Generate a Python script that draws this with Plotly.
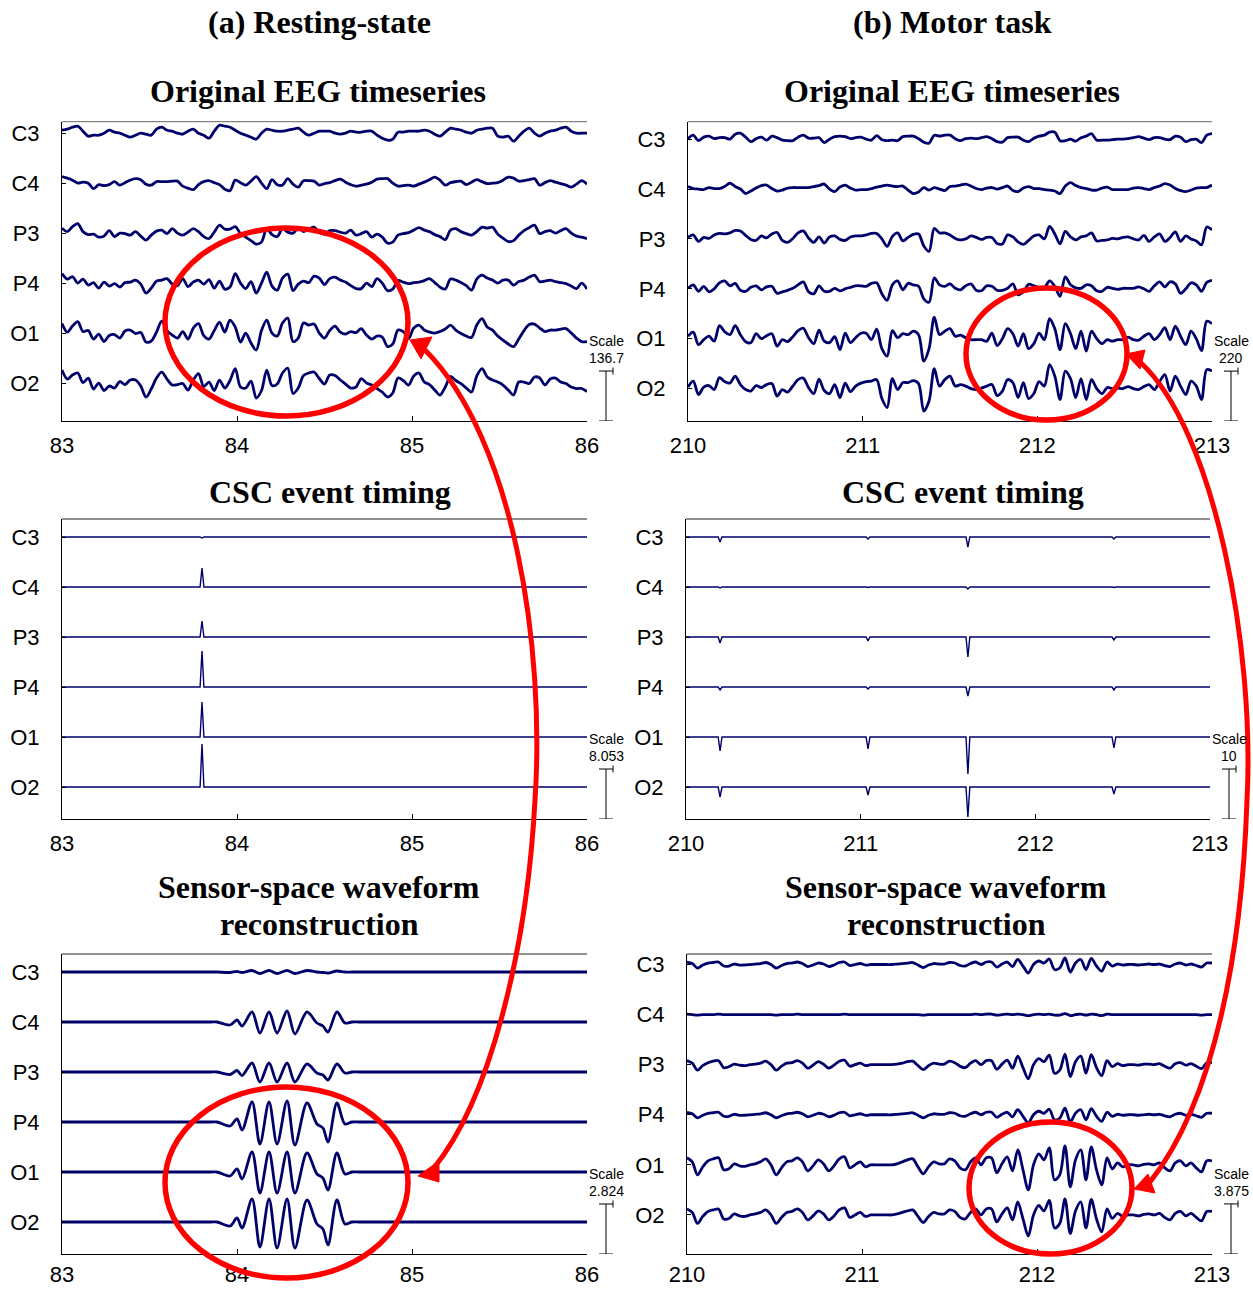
import plotly.graph_objects as go

W, H = 1253, 1289
CHANNELS = ["C3", "C4", "P3", "P4", "O1", "O2"]
TRACE = "#00006b"
RED = "#ff0000"
SANS = "Liberation Sans, Arial, sans-serif"
SERIF = "Liberation Serif, Times New Roman, serif"

rest_ticks = [83, 84, 85, 86]
motor_ticks = [210, 211, 212, 213]
# sample times (every 0.03 s)
rest_time = [round(83.0 + 0.03 * k, 3) for k in range(101)]
motor_time = [round(210.0 + 0.03 * k, 3) for k in range(101)]

# amplitudes are in percent of each panel's scale bar (100 = one scale bar)
# ---------- (a) resting-state: original EEG ----------
rest_eeg_C3 = [6,8,12,14,4,-6,-4,-4,0,6, 2,0,-4,-8,-4,0,-2,-4,8,12, 6,4,0,-2,4,8,0,-4,-10,4,
               16,14,12,6,0,-4,-8,-12,0,8, 6,4,4,6,8,10,2,-4,0,4, 4,4,0,-2,0,4,2,2,4,4,
               -4,-10,-14,-12,2,2,4,4,4,6, 4,-2,-6,2,10,8,6,2,0,6, 8,10,10,-6,-8,-6,-16,-6,4,10,
               0,-6,0,4,6,10,12,4,0,0, 0]
rest_eeg_C4 = [13,10,6,0,2,0,-11,-3,-5,-3, 3,-4,1,6,9,7,-2,-4,3,3, 3,4,4,-6,-10,-13,-3,3,5,1,
               -3,-12,-15,6,1,-4,4,13,0,-11, 7,-3,-4,9,-2,-8,5,5,4,-4, -1,1,5,8,2,-3,-6,-4,-2,2,
               8,9,9,0,-6,-5,-4,-6,-2,2, 7,12,6,-4,1,3,4,-3,2,7, 3,-1,0,1,6,12,10,4,5,7,
               9,-4,1,5,2,-1,-4,-8,-2,5, -2]
rest_eeg_P3 = [10,3,13,19,3,-3,-2,-8,-6,5, -7,0,-1,-4,3,-6,-14,-4,4,6, -1,9,0,-4,2,9,3,-7,-11,2,
               16,8,8,13,-1,-8,-15,-22,-18,9, -3,-7,9,2,0,10,3,8,12,2, -2,5,5,2,0,6,-4,-1,3,-8,
               -2,-8,-20,-18,-4,-1,1,6,11,6, 3,-3,-7,-13,6,9,3,-1,-4,3, 12,10,12,-2,-10,-17,-15,-4,5,11,
               16,-1,3,5,0,5,9,0,-6,-8, -11]
rest_eeg_P4 = [19,8,13,0,8,-4,1,-10,2,-6, -1,-8,1,2,6,-2,-20,-10,4,6, 9,-2,-5,9,-7,2,6,-2,7,-10,
               4,-12,-8,19,0,-11,3,-20,0,22, -6,-14,10,18,-15,-2,4,1,14,10, -3,9,12,6,2,-5,-11,-11,0,-7,
               9,0,-15,-12,5,2,-1,1,2,5, 9,1,-8,-12,8,6,1,-5,-14,8, 16,10,6,0,6,6,-4,3,6,12,
               16,3,4,6,3,1,-1,-6,-11,0, -12]
rest_eeg_O1 = [19,2,14,23,3,5,-12,-2,-17,-5, -3,-10,4,6,-1,1,-18,-16,2,24, 5,-4,-10,3,-12,10,19,-5,-12,5,
               22,2,26,12,-18,0,-20,-34,5,26, 0,-6,20,30,-17,-10,20,16,18,0, -10,5,14,2,-2,3,1,9,-4,-12,
               -6,-8,-27,-22,6,3,-11,10,16,6, 2,0,3,8,16,6,-1,-6,-9,16, 29,12,6,-6,-14,-22,-27,-12,5,17,
               18,10,3,6,6,8,9,0,-10,-17, -17]
rest_eeg_O2 = [26,8,16,20,1,10,-12,0,-15,-6, -10,3,-3,6,6,-6,-28,-12,10,22, 8,-4,-3,-1,-14,6,19,-7,2,-15,
               6,-10,5,29,-8,-10,4,-30,-15,26, -5,-2,20,30,-21,-10,15,20,22,9, -2,16,15,6,-2,-10,-8,9,0,-4,
               -11,-18,-28,-20,10,5,-4,14,20,2, -3,-14,-24,-8,13,5,-1,-10,-18,14, 29,12,6,2,-4,-14,-24,2,2,-1,
               12,10,-4,8,10,2,-1,-8,-11,-11, -17]

# ---------- (b) motor task: original EEG ----------
motor_eeg_C3 = [1,8,-3,4,6,1,3,3,0,10, 12,4,-5,1,4,-2,6,3,-2,-3, -3,4,8,2,2,3,-7,0,5,6,
                5,1,3,4,0,-2,7,-1,-3,-2, -3,5,6,6,1,-6,-8,8,6,8, 8,1,-3,1,2,1,3,5,1,-5,
                -6,3,4,4,-2,-5,2,6,8,14, 14,-3,-3,0,-4,3,6,11,-2,-2, -2,-1,0,0,1,3,5,2,-1,3,
                3,0,-1,6,4,-5,-1,0,-7,8, 11]
motor_eeg_C4 = [5,1,0,-1,3,1,1,5,12,5, 0,-9,-4,2,7,8,1,-4,-2,2, 3,3,3,3,5,7,10,0,-5,4,
                8,2,-2,-1,-1,1,4,6,8,6, 5,6,-2,-9,-6,3,-2,3,0,-3, 5,6,8,10,6,1,-1,2,3,0,
                3,6,-3,-5,2,5,1,1,-1,-2, -4,-9,6,13,7,3,1,-2,-2,2, 4,-1,-1,-1,-1,2,3,1,-1,3,
                6,11,8,1,-3,-5,-2,2,3,3, 8]
motor_eeg_P3 = [3,8,-5,3,1,8,11,10,12,17, 16,7,-1,-3,6,2,10,13,-3,-7, 1,12,16,2,-7,4,-8,4,6,-1,
                -3,4,6,6,8,11,11,0,-15,5, 12,-4,3,9,10,-14,-25,21,12,12, 8,1,-2,0,6,3,-1,3,3,-9,
                -10,8,4,-6,-11,-3,6,8,0,25, 10,-10,15,4,-2,4,6,12,-4,-3, -2,1,0,3,4,0,-2,7,-5,4,
                10,-5,3,14,-5,6,0,-4,-12,24, 18]
motor_eeg_P4 = [1,8,-5,5,-6,0,12,16,6,11, -3,-5,3,6,-2,4,5,-9,-6,-3, 1,8,14,-6,-10,6,-5,-5,1,-4,
                0,3,6,6,5,11,12,-10,-23,8, 16,-2,11,8,5,-20,-27,22,8,5, 10,1,-2,6,10,-3,-4,6,5,-3,
                -3,1,10,-12,-6,9,6,2,2,16, 5,-15,24,8,2,1,8,6,-4,-5, 3,1,-1,1,1,1,4,0,-5,6,
                14,4,14,10,-9,0,12,8,-5,13, 17]
motor_eeg_O1 = [5,13,-12,-2,5,-5,26,14,8,26, 8,-6,-8,10,0,6,10,-15,-2,-6, 4,16,21,2,-10,17,-5,-8,4,-22,
                11,-8,2,11,11,-2,19,-20,-35,16, 2,10,8,15,8,-45,-20,43,8,15, 20,5,7,2,-2,-2,-2,-5,11,-14,
                0,20,10,-15,10,-20,-10,11,-2,40, 20,-22,30,10,-20,15,-25,15,0,-10, -2,-5,-2,-2,3,-2,-3,5,10,-2,
                8,22,-2,25,5,-12,15,0,-24,35, 30]
motor_eeg_O2 = [3,15,-12,3,6,-2,22,14,11,25, 8,-2,-5,6,2,8,10,-15,-2,-7, 5,18,21,2,-10,19,-4,-10,8,-18,
                11,-6,5,11,14,15,18,-20,-38,20, -2,12,12,16,10,-45,-25,40,5,18, 25,5,8,5,0,-2,1,5,8,-14,
                -5,18,12,-18,12,-20,-10,14,5,48, 25,-22,35,20,-18,20,-22,18,0,-10, 2,0,1,0,4,0,-2,4,8,-2,
                14,28,-5,25,5,-12,15,5,-22,38, 35]

# ---------- CSC event timing (event times, per-channel amplitudes) ----------
rest_event_times = [83.80]
rest_event_amp = [[-2], [38], [32], [72], [70], [86]]          # C3..O2
motor_event_times = [210.195, 211.042, 211.614, 212.45]
motor_event_amp = [[-10, -4, -20, -4], [-2, -1, -4, -1], [-12, -8, -40, -6],
                   [-6, -4, -18, -6], [-28, -24, -74, -22], [-20, -16, -60, -14]]

# ---------- sensor-space waveform reconstruction ----------
rest_recon_time = [83.0, 83.85, 83.886, 83.96, 84.0, 84.029, 84.086, 84.131, 84.183, 84.229, 84.286,
                   84.331, 84.4, 84.457, 84.491, 84.52, 84.571, 84.617, 84.657, 84.7, 86.0]
rest_recon_C3 = [0,0,0,-1,1,-1,3,-3,3,-3,3,-3,3,0,-1,-2,2,0,0,0,0]
rest_recon_C4 = [0,0,0,-6,4,-8,20,-22,20,-22,22,-24,20,-2,-8,-20,20,-2,0,0,0]
rest_recon_P3 = [0,0,0,-5,3,-7,18,-20,18,-20,18,-20,16,-2,-6,-16,16,-2,0,0,0]
rest_recon_P4 = [0,0,0,-8,6,-16,40,-44,40,-44,42,-46,38,-4,-12,-40,38,-4,0,0,0]
rest_recon_O1 = [0,0,0,-8,6,-14,40,-42,40,-42,40,-42,38,-4,-12,-36,38,-4,0,0,0]
rest_recon_O2 = [0,0,0,-8,8,-12,46,-50,46,-52,46,-52,44,-4,-14,-46,44,-4,0,0,0]

motor_recon_C3 = [5,2,-7,-1,3,4,5,-3,-3,1, -1,-1,0,1,2,4,0,-7,-2,2, 3,5,2,-4,-1,3,1,-4,-1,4,
                  5,-2,0,2,-1,0,0,0,0,0, 1,2,3,4,-1,-6,-1,2,1,1, 4,3,-2,-3,2,5,0,5,5,-5,
                  1,5,-4,10,-3,-17,0,7,3,11, -10,-7,13,-15,3,10,-10,12,-3,-13, 5,-3,1,-1,0,0,-1,0,1,0,
                  1,-2,-4,1,3,-1,1,-2,-5,3, 3]
motor_recon_C4 = [1,0,-1,0,0,0,1,0,0,0, 0,0,0,0,0,0,0,-1,0,0, 0,1,0,0,0,0,0,0,0,0,
                  1,0,0,0,0,0,0,0,0,0, 0,0,0,0,0,-1,0,0,0,0, 0,0,0,0,0,1,0,1,1,-1,
                  0,1,0,1,0,-2,0,1,0,1, -1,-1,2,-2,0,1,-1,1,0,-2, 1,0,0,0,0,0,0,0,0,0,
                  0,0,0,0,0,0,0,0,-1,0, 0]
motor_recon_P3 = [8,3,-11,-2,4,7,8,-6,-4,1, -1,-2,0,1,3,7,0,-11,-3,3, 4,8,3,-7,-1,6,1,-7,-1,7,
                  9,-3,0,3,-2,0,0,0,0,0, 1,3,6,7,-2,-10,-2,3,1,1, 7,4,-3,-6,3,8,0,8,8,-9,
                  1,9,-7,17,-6,-28,0,12,6,19, -17,-11,21,-24,6,17,-17,20,-6,-22, 8,-4,2,-2,0,0,-1,1,1,0,
                  2,-3,-7,2,4,-1,2,-3,-8,4, 4]
motor_recon_P4 = [5,2,-6,-1,3,4,5,-3,-3,1, -1,-1,0,1,2,4,0,-6,-2,2, 3,5,2,-4,-1,3,1,-4,-1,4,
                  5,-2,0,2,-1,0,0,0,0,0, 1,2,3,4,-1,-6,-1,2,1,1, 4,3,-2,-3,2,5,0,5,5,-5,
                  1,5,-4,10,-3,-16,0,7,3,11, -10,-7,13,-14,3,10,-10,12,-3,-13, 5,-3,1,-1,0,0,-1,0,1,0,
                  1,-2,-4,1,3,-1,1,-2,-5,3, 3]
motor_recon_O1 = [14,6,-20,-4,8,12,14,-10,-8,2, -2,-3,0,2,6,12,0,-20,-6,6, 8,14,6,-12,-2,10,2,-12,-2,12,
                  16,-6,0,6,-4,0,0,0,0,0, 2,6,10,12,-4,-18,-4,6,2,2, 12,8,-6,-10,6,14,0,14,14,-16,
                  2,16,-12,30,-10,-50,0,22,10,34, -30,-20,38,-44,10,30,-30,36,-10,-40, 14,-8,4,-4,0,0,-2,1,2,0,
                  4,-6,-12,4,8,-2,4,-6,-14,8, 8]
motor_recon_O2 = [12,5,-17,-3,7,10,12,-8,-7,2, -2,-3,0,2,5,10,0,-17,-5,5, 7,12,5,-10,-2,8,2,-10,-2,10,
                  14,-5,0,5,-3,0,0,0,0,0, 2,5,8,10,-3,-15,-3,5,2,2, 10,7,-5,-8,5,12,0,12,12,-14,
                  2,14,-10,26,-8,-42,0,19,8,29, -26,-17,32,-37,8,26,-26,31,-8,-34, 12,-7,3,-3,0,0,-2,1,2,0,
                  3,-5,-10,3,7,-2,3,-5,-12,7, 7]

scale_labels = ["136.7", "220", "8.053", "10", "2.824", "3.875"]

# ---------------- layout helpers ----------------
# panel pixel boxes (left, top, right, bottom) and axis ranges
panels = [
    dict(box=(62, 121.7, 587, 421), xr=(83, 86), yr=(-5.76, 0.23), ticks=rest_ticks, top="#666666", so=5),
    dict(box=(688, 121.7, 1212, 421), xr=(210, 213), yr=(-5.65, 0.35), ticks=motor_ticks, top="#666666", so=5),
    dict(box=(62, 519, 587, 819), xr=(83, 86), yr=(-5.64, 0.36), ticks=rest_ticks, top="#222222", so=5),
    dict(box=(686, 519, 1210, 819), xr=(210, 213), yr=(-5.64, 0.36), ticks=motor_ticks, top="#222222", so=5),
    dict(box=(62, 954, 587, 1254), xr=(83, 86), yr=(-5.64, 0.36), ticks=rest_ticks, top="#222222", so=1),
    dict(box=(687, 954, 1212, 1254), xr=(210, 213), yr=(-5.78, 0.21), ticks=motor_ticks, top="#222222", so=1),
]


def px(x, y):
    return x / W, 1 - y / H


def ids(n):
    return ("x" if n == 1 else f"x{n}"), ("y" if n == 1 else f"y{n}")


fig = go.Figure()
layout = dict(width=W, height=H, margin=dict(l=0, r=0, t=0, b=0, autoexpand=False),
              paper_bgcolor="white", plot_bgcolor="white", showlegend=False)
shapes, annotations = [], []

for n, p in enumerate(panels, start=1):
    xid, yid = ids(n)
    l, t, r, b = p["box"]
    axx = "xaxis" if n == 1 else f"xaxis{n}"
    axy = "yaxis" if n == 1 else f"yaxis{n}"
    layout[axx] = dict(domain=[l / W, r / W], range=list(p["xr"]), anchor=yid, automargin=False,
                       tickvals=p["ticks"], ticktext=[str(v) for v in p["ticks"]],
                       ticks="inside", ticklen=5, tickcolor="black", showline=True,
                       linecolor="black", linewidth=1, showgrid=False, zeroline=False,
                       tickfont=dict(family=SANS, size=22, color="black"), ticklabelstandoff=p["so"],
                       fixedrange=True)
    layout[axy] = dict(domain=[1 - b / H, 1 - t / H], range=list(p["yr"]), anchor=xid, automargin=False,
                       tickvals=[-i for i in range(6)], ticktext=CHANNELS,
                       ticks="inside", ticklen=4, tickcolor="black", showline=True,
                       linecolor="black", linewidth=1, showgrid=False, zeroline=False,
                       tickfont=dict(family=SANS, size=22, color="black"), ticklabelstandoff=17,
                       fixedrange=True)
    # top border
    shapes.append(dict(type="line", xref=f"{xid} domain", yref=f"{yid} domain",
                       x0=0, x1=1, y0=1, y1=1, line=dict(color=p["top"], width=1)))
    # scale bar (one scale unit tall)
    pw = r - l
    bx = 1 + 19 / pw
    y0 = p["yr"][0]
    y1 = y0 + 1
    bar = dict(color="black", width=1)
    shapes.append(dict(type="line", xref=f"{xid} domain", yref=yid, x0=bx, x1=bx, y0=y0, y1=y1, line=bar))
    for yy in (y0, y1):
        shapes.append(dict(type="line", xref=f"{xid} domain", yref=yid,
                           x0=bx - 7 / pw, x1=bx + 7 / pw, y0=yy, y1=yy, line=bar))
    shapes.append(dict(type="line", xref=f"{xid} domain", yref=yid,
                       x0=bx + 7 / pw, x1=bx + 7 / pw, y0=y1 - 0.07, y1=y1 + 0.07, line=bar))
    annotations.append(dict(text="Scale", xref=f"{xid} domain", yref=yid, x=bx, y=y1 + 0.6,
                            showarrow=False, xanchor="center", yanchor="middle",
                            font=dict(family=SANS, size=14, color="black")))
    annotations.append(dict(text=scale_labels[n - 1], xref=f"{xid} domain", yref=yid, x=bx,
                            y=y1 + 0.26, showarrow=False, xanchor="center", yanchor="middle",
                            font=dict(family=SANS, size=14, color="black")))


def add_lines(n, time, series, width, shape):
    xid, yid = ids(n)
    for i, vals in enumerate(series):
        fig.add_trace(go.Scatter(x=time, y=[-i + v / 100 for v in vals], mode="lines",
                                 line=dict(color=TRACE, width=width, shape=shape,
                                           **({"smoothing": 0.9} if shape == "spline" else {})),
                                 xaxis=xid, yaxis=yid, hoverinfo="skip", showlegend=False))


def spikes(t0, t1, times, amps, half=0.011):
    xs, ys = [t0], [0]
    for tt, a in zip(times, amps):
        xs += [tt - half, tt, tt + half]
        ys += [0, a, 0]
    xs.append(t1)
    ys.append(0)
    return xs, ys


add_lines(1, rest_time, [rest_eeg_C3, rest_eeg_C4, rest_eeg_P3, rest_eeg_P4, rest_eeg_O1, rest_eeg_O2], 2.8, "spline")
add_lines(2, motor_time, [motor_eeg_C3, motor_eeg_C4, motor_eeg_P3, motor_eeg_P4, motor_eeg_O1, motor_eeg_O2], 2.8, "spline")

for n, (t0, t1, times, amps) in ((3, (83.0, 86.0, rest_event_times, rest_event_amp)),
                                 (4, (210.0, 213.0, motor_event_times, motor_event_amp))):
    xid, yid = ids(n)
    for i, a in enumerate(amps):
        xs, ys = spikes(t0, t1, times, a)
        fig.add_trace(go.Scatter(x=xs, y=[-i + v / 100 for v in ys], mode="lines",
                                 line=dict(color=TRACE, width=1.4), xaxis=xid, yaxis=yid,
                                 hoverinfo="skip", showlegend=False))

add_lines(5, rest_recon_time, [rest_recon_C3, rest_recon_C4, rest_recon_P3, rest_recon_P4, rest_recon_O1, rest_recon_O2], 2.8, "spline")
add_lines(6, motor_time, [motor_recon_C3, motor_recon_C4, motor_recon_P3, motor_recon_P4, motor_recon_O1, motor_recon_O2], 2.8, "spline")

# titles
def title(text, x, y, size=32):
    xx, yy = px(x, y)
    annotations.append(dict(text=f"<b>{text}</b>", xref="paper", yref="paper", x=xx, y=yy,
                            showarrow=False, xanchor="center", yanchor="middle",
                            font=dict(family=SERIF, size=size, color="black")))


title("(a) Resting-state", 319, 22)
title("(b) Motor task", 952, 22)
title("Original EEG timeseries", 318, 91)
title("Original EEG timeseries", 952, 91)
title("CSC event timing", 330, 492)
title("CSC event timing", 963, 492)
title("Sensor-space waveform", 319, 887)
title("reconstruction", 319, 924)
title("Sensor-space waveform", 946, 887)
title("reconstruction", 946, 924)

# red highlight ellipses and arrows
for (x0, y0, x1, y1) in ((165, 228, 408, 416), (165, 1087, 408, 1278),
                         (966, 288, 1127, 420), (969, 1122, 1132, 1254)):
    a0, b0 = px(x0, y1)
    a1, b1 = px(x1, y0)
    shapes.append(dict(type="circle", xref="paper", yref="paper", x0=a0, y0=b0, x1=a1, y1=b1,
                       line=dict(color=RED, width=5.5), layer="above"))


def path(cmds, close=False):
    out = []
    for letter, pts in cmds:
        coords = " ".join(f"{px(x, y)[0]:.5f},{px(x, y)[1]:.5f}" for x, y in pts)
        out.append(f"{letter} {coords}")
    s = " ".join(out)
    return s + (" Z" if close else "")


curves = [
    [("M", [(425, 350)]), ("C", [(515, 440), (545, 650), (535, 800)]), ("C", [(527, 950), (490, 1100), (433, 1169)])],
    [("M", [(1140, 362)]), ("C", [(1215, 430), (1255, 650), (1247, 800)]), ("C", [(1242, 950), (1215, 1100), (1150, 1182)])],
]
for c in curves:
    shapes.append(dict(type="path", xref="paper", yref="paper", path=path(c),
                       line=dict(color=RED, width=5), layer="above"))

heads = [
    [(410, 340), (432, 337), (421, 359)],
    [(418, 1176), (439, 1161), (439, 1182)],
    [(1126, 354), (1145, 350), (1140, 369)],
    [(1134, 1189), (1148, 1174), (1155, 1193)],
]
for hpts in heads:
    shapes.append(dict(type="path", xref="paper", yref="paper",
                       path=path([("M", [hpts[0]]), ("L", [hpts[1]]), ("L", [hpts[2]])], close=True),
                       fillcolor=RED, line=dict(color=RED, width=1), layer="above"))

layout["shapes"] = shapes
layout["annotations"] = annotations
fig.update_layout(**layout)
fig.write_html("out.html")
